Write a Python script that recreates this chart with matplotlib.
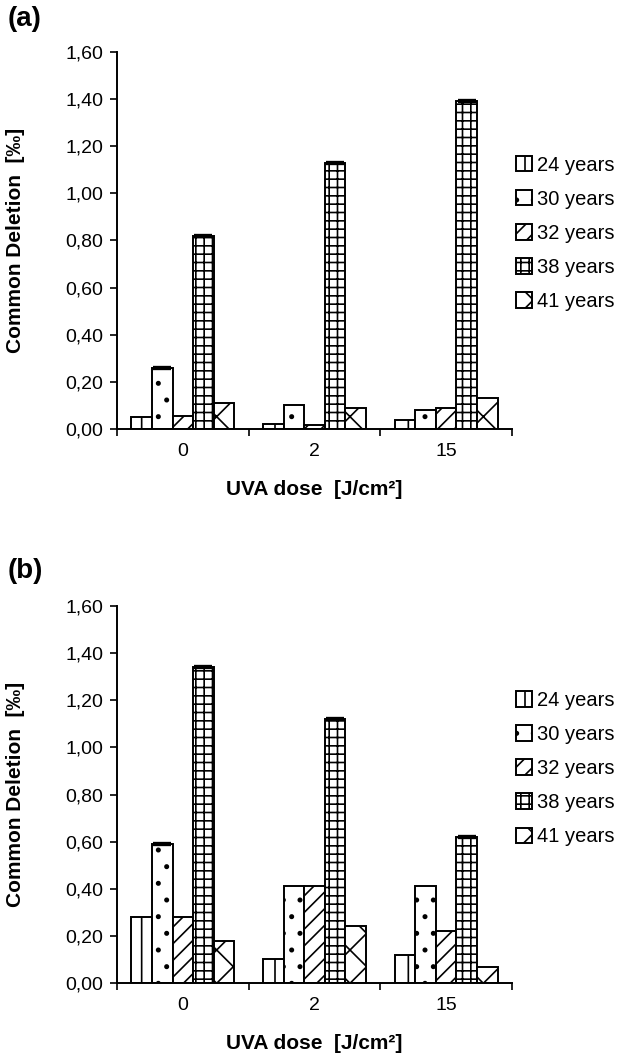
import numpy as np
import matplotlib
matplotlib.use("Agg")
import matplotlib.pyplot as plt

plt.rcParams["font.family"] = ["Liberation Sans", "DejaVu Sans"]
plt.rcParams["hatch.linewidth"] = 1.2

doses = ["0", "2", "15"]
ages = ["24 years", "30 years", "32 years", "38 years", "41 years"]
hatches = ["|", ".", "//", "++", "x"]

# Common deletion [per mille], one list per age group, values for doses 0 / 2 / 15
cd_a_24 = [0.05, 0.02, 0.04]
cd_a_30 = [0.26, 0.10, 0.08]
cd_a_32 = [0.055, 0.015, 0.09]
cd_a_38 = [0.82, 1.13, 1.39]
cd_a_41 = [0.11, 0.09, 0.13]

cd_b_24 = [0.28, 0.10, 0.12]
cd_b_30 = [0.59, 0.41, 0.41]
cd_b_32 = [0.28, 0.41, 0.22]
cd_b_38 = [1.34, 1.12, 0.62]
cd_b_41 = [0.18, 0.24, 0.07]

yticks = [0.0, 0.2, 0.4, 0.6, 0.8, 1.0, 1.2, 1.4, 1.6]

W = 0.156


def panel(ax, series, legend_top):
    x = np.arange(len(doses))
    for i, (vals, h, lab) in enumerate(zip(series, hatches, ages)):
        pos = x + (i - 2) * W
        ax.bar(pos, vals, W, color="white", edgecolor="black", lw=1.4,
               hatch=h, label=lab)
        # the heavy top edge seen on some bars
        if lab in ("30 years", "38 years"):
            idx = range(3) if lab == "38 years" else [0]
            for j in idx:
                ax.errorbar(pos[j], vals[j], yerr=0, fmt="none", ecolor="black",
                            capsize=6.5, capthick=3, elinewidth=0)
    ax.set_xlim(-0.5, 2.5)
    ax.set_ylim(0, 1.6)
    ax.set_yticks(yticks)
    ax.set_yticklabels([f"{v:.2f}".replace(".", ",") for v in yticks])
    ax.set_xticks([-0.5, 0.5, 1.5, 2.5])
    ax.set_xticklabels([])
    ax.set_xticks(x, minor=True)
    ax.set_xticklabels(doses, minor=True)
    ax.tick_params(which="major", direction="out", length=5, width=1.2,
                   labelsize=14, pad=5)
    ax.tick_params(axis="x", which="minor", length=0, labelsize=14, pad=10)
    for s in ("top", "right"):
        ax.spines[s].set_visible(False)
    for s in ("left", "bottom"):
        ax.spines[s].set_linewidth(1.4)
    ax.set_ylabel("Common Deletion  [\u2030]", fontsize=15, fontweight="bold")
    ax.yaxis.set_label_coords(-0.233, 0.5)
    ax.set_xlabel("UVA dose  [J/cm\u00b2]", fontsize=15, fontweight="bold")
    ax.xaxis.set_label_coords(0.5, -0.135)
    ax.legend(loc="upper left", bbox_to_anchor=(1.01, legend_top), frameon=False,
              fontsize=14.5, handlelength=0.8, handleheight=0.8, handletextpad=0.25,
              labelspacing=0.75, borderaxespad=0, borderpad=0)


fig = plt.figure(figsize=(6.28, 10.61), dpi=100)
ax_a = fig.add_axes([0.1863, 0.5957, 0.629, 0.3553])
ax_b = fig.add_axes([0.1863, 0.0735, 0.629, 0.3553])

panel(ax_a, [cd_a_24, cd_a_30, cd_a_32, cd_a_38, cd_a_41], 0.725)
panel(ax_b, [cd_b_24, cd_b_30, cd_b_32, cd_b_38, cd_b_41], 0.775)

fig.text(0.012, 0.994, "(a)", fontsize=20, fontweight="bold", va="top")
fig.text(0.012, 0.474, "(b)", fontsize=20, fontweight="bold", va="top")

fig.savefig("out.png", dpi=100)
